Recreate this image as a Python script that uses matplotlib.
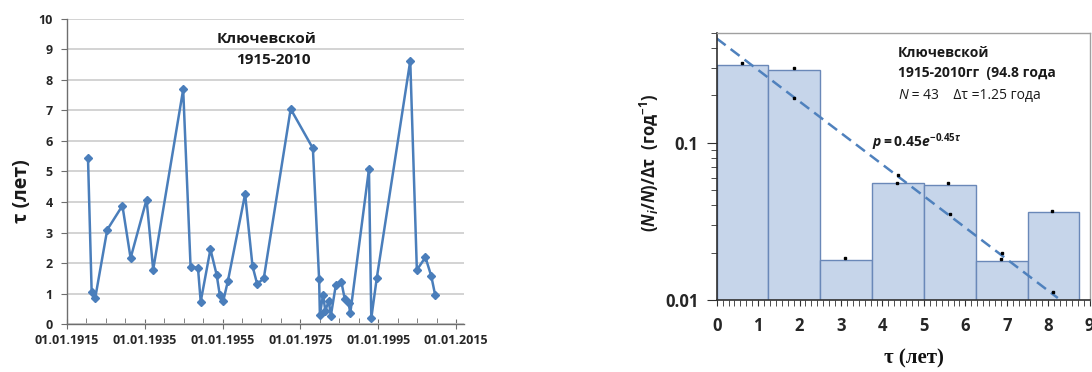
import matplotlib
matplotlib.use("Agg")
import matplotlib.pyplot as plt
from matplotlib.ticker import MultipleLocator, FixedLocator, NullFormatter

plt.rcParams['font.family'] = ['Open Sans', 'DejaVu Sans']
plt.rcParams['mathtext.fontset'] = 'custom'
plt.rcParams['mathtext.rm'] = 'Open Sans:bold'
plt.rcParams['mathtext.it'] = 'Open Sans:italic:bold'
plt.rcParams['mathtext.bf'] = 'Open Sans:bold'

# --- left chart: interval between eruptions vs date ---
years = [1920.46, 1921.4, 1922.3, 1925.4, 1929.3, 1931.4, 1935.5, 1937.2,
         1944.9, 1946.8, 1948.7, 1949.4, 1951.9, 1953.5, 1954.3, 1955.2,
         1956.4, 1960.8, 1962.7, 1963.9, 1965.6, 1972.5, 1978.2, 1979.8,
         1980.0, 1980.8, 1981.4, 1982.3, 1982.8, 1984.1, 1985.5, 1986.4,
         1987.4, 1987.8, 1992.6, 1993.2, 1994.6, 2003.2, 2004.9, 2007.1,
         2008.6, 2009.6]
tau = [5.45, 1.06, 0.84, 3.09, 3.88, 2.16, 4.08, 1.78,
       7.69, 1.88, 1.84, 0.73, 2.45, 1.61, 0.95, 0.76,
       1.42, 4.26, 1.90, 1.31, 1.50, 7.05, 5.76, 1.47,
       0.30, 0.95, 0.44, 0.76, 0.26, 1.28, 1.39, 0.81,
       0.68, 0.35, 5.08, 0.19, 1.50, 8.63, 1.77, 2.19,
       1.57, 0.95]
date_ticks = [1915, 1935, 1955, 1975, 1995, 2015]
date_labels = ['01.01.1915', '01.01.1935', '01.01.1955',
               '01.01.1975', '01.01.1995', '01.01.2015']

# --- right chart: histogram of intervals ---
bin_left = [0, 1.25, 2.5, 3.75, 5.0, 6.25, 7.5]
bin_width = 1.25
bar_h = [0.313, 0.291, 0.018, 0.0557, 0.0538, 0.0178, 0.0364]
emp_x = [0.62, 1.86, 3.10, 4.35, 5.59, 6.85, 8.08]
emp_p = [0.32, 0.297, 0.0184, 0.0557, 0.0557, 0.0182, 0.037]
fit_x = [1.875, 4.375, 5.625, 6.875, 8.125]
fit_p = [0.193, 0.0623, 0.0352, 0.0198, 0.0112]
fit_line_x = [0, 8.23]
fit_line_p = [0.46, 0.0103]

blue = '#4a7ebb'
tick_col = '#262626'

fig = plt.figure(figsize=(10.92, 3.72), dpi=100)

ax1 = fig.add_axes([0.0611, 0.129, 0.3638, 0.820])
ax1.plot(years, tau, color=blue, lw=1.8, marker='D', ms=3.8, mfc=blue, mec=blue, zorder=3)
ax1.set_xlim(1915, 2017)
ax1.set_ylim(0, 10)
ax1.set_yticks(range(0, 11))
ax1.set_xticks(date_ticks)
ax1.set_xticklabels(date_labels)
ax1.xaxis.set_minor_locator(MultipleLocator(5))
ax1.yaxis.grid(True, color='#d0d0d0', lw=1.3)
ax1.set_axisbelow(True)
for s in ['top', 'right']:
    ax1.spines[s].set_visible(False)
for s in ['left', 'bottom']:
    ax1.spines[s].set_color('#6e6e6e')
    ax1.spines[s].set_linewidth(1.0)
ax1.tick_params(axis='x', which='major', direction='inout', length=7, color='#6e6e6e',
                labelsize=9, labelcolor=tick_col, pad=4)
ax1.tick_params(axis='x', which='minor', direction='in', length=4, color='#6e6e6e')
ax1.tick_params(axis='y', direction='out', length=4, color='#6e6e6e',
                labelsize=9, labelcolor=tick_col, pad=6)
for lab in ax1.get_xticklabels() + ax1.get_yticklabels():
    lab.set_fontweight('bold')
ax1.set_ylabel('τ (лет)', fontsize=14, fontweight='bold', color='#1a1a1a')
ax1.yaxis.set_label_coords(-0.088, 0.436)
ax1.text(0.502, 0.920, 'Ключевской', transform=ax1.transAxes, ha='center',
         va='baseline', fontsize=11, fontweight='bold', color='#1a1a1a')
ax1.text(0.519, 0.852, '1915-2010', transform=ax1.transAxes, ha='center',
         va='baseline', fontsize=11, fontweight='bold', color='#1a1a1a')

ax2 = fig.add_axes([0.6563, 0.1935, 0.3416, 0.7185])
ax2.set_yscale('log')
ax2.bar(bin_left, bar_h, width=bin_width, align='edge', color='#c6d5ea',
        edgecolor='#6a88b8', lw=1.0, zorder=1)
ax2.plot(fit_line_x, fit_line_p, color='#4f81bd', lw=1.8, dashes=(4.5, 2.5), zorder=2)
ax2.plot(emp_x, emp_p, 's', color='black', ms=1.6, zorder=3)
ax2.plot(fit_x, fit_p, 's', color='black', ms=1.6, zorder=3)
ax2.set_xlim(0, 9)
ax2.set_ylim(0.01, 0.5)
ax2.set_xticks(range(0, 10))
ax2.xaxis.set_minor_locator(MultipleLocator(1 / 7))
ax2.yaxis.set_major_locator(FixedLocator([0.01, 0.1]))
ax2.set_yticklabels(['0.01', '0.1'])
ax2.yaxis.set_minor_formatter(NullFormatter())
for s in ['top', 'right']:
    ax2.spines[s].set_color('#a0a0a0')
    ax2.spines[s].set_linewidth(1.0)
for s in ['left', 'bottom']:
    ax2.spines[s].set_color('#303030')
    ax2.spines[s].set_linewidth(1.2)
ax2.tick_params(axis='x', which='both', direction='out', length=4, color='#303030',
                labelsize=12, labelcolor=tick_col, pad=8)
ax2.tick_params(axis='y', which='major', direction='out', length=7, color='#303030',
                labelsize=12, labelcolor=tick_col, pad=6)
ax2.tick_params(axis='y', which='minor', direction='out', length=4, color='#303030')
for lab in ax2.get_xticklabels() + ax2.get_yticklabels():
    lab.set_fontweight('bold')
ax2.set_ylabel(r'$(N_i/N)/\mathrm{\Delta\tau}$  (год$^{\mathrm{-1}}$)', fontsize=12,
               fontweight='bold', color='#1a1a1a')
ax2.yaxis.set_label_coords(-0.148, 0.513)
ax2.set_xlabel('τ (лет)', fontsize=15, fontweight='bold',
               family=['Liberation Serif', 'DejaVu Serif'], color='#111111')
ax2.xaxis.set_label_coords(0.53, -0.183)

ax2.text(0.486, 0.910, 'Ключевской', transform=ax2.transAxes, va='baseline',
         fontsize=10, fontweight='bold', color='#1a1a1a')
ax2.text(0.486, 0.834, '1915-2010гг  (94.8 года', transform=ax2.transAxes, va='baseline',
         fontsize=10, fontweight='bold', color='#1a1a1a')
t_n = ax2.text(0.486, 0.752, 'N', transform=ax2.transAxes, va='baseline',
               fontsize=10, style='italic', color='#1a1a1a')
ax2.annotate(' = 43    Δτ =1.25 года', xy=(1, 0), xycoords=t_n, va='bottom',
             fontsize=10, color='#1a1a1a')
ax2.text(0.416, 0.572, r'$\mathit{p = 0.45e^{-0.45\tau}}$', transform=ax2.transAxes,
         va='baseline', fontsize=10, color='#1a1a1a')

fig.savefig('out.png', dpi=100)
